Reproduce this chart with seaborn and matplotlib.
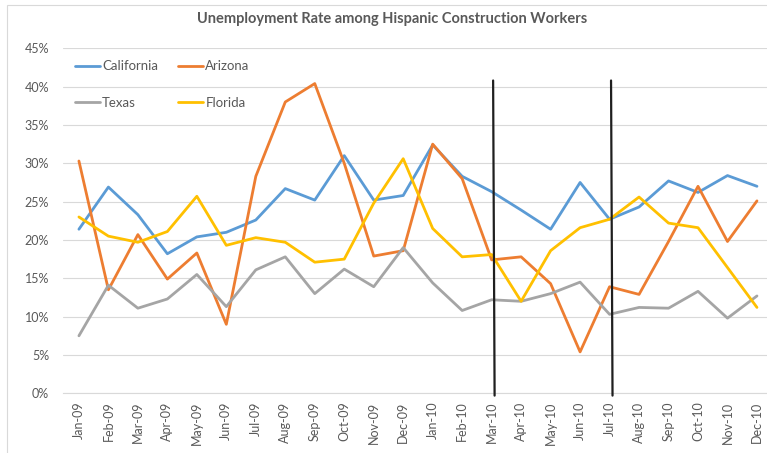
import pandas as pd
import matplotlib.pyplot as plt
import seaborn as sns
from matplotlib.patches import Rectangle
from matplotlib.ticker import FuncFormatter

months = ["Jan-09", "Feb-09", "Mar-09", "Apr-09", "May-09", "Jun-09",
          "Jul-09", "Aug-09", "Sep-09", "Oct-09", "Nov-09", "Dec-09",
          "Jan-10", "Feb-10", "Mar-10", "Apr-10", "May-10", "Jun-10",
          "Jul-10", "Aug-10", "Sep-10", "Oct-10", "Nov-10", "Dec-10"]

california = [21.4, 26.9, 23.3, 18.2, 20.4, 21.0, 22.6, 26.7, 25.2, 31.0, 25.2, 25.8,
              32.4, 28.3, 26.3, 23.9, 21.4, 27.5, 22.7, 24.3, 27.7, 26.2, 28.4, 27.0]
arizona = [30.3, 13.5, 20.7, 14.9, 18.3, 9.0, 28.3, 38.0, 40.4, 30.0, 17.9, 18.6,
           32.5, 28.0, 17.4, 17.8, 14.3, 5.4, 13.9, 12.9, 19.8, 27.0, 19.8, 25.1]
texas = [7.5, 14.1, 11.1, 12.3, 15.5, 11.3, 16.1, 17.8, 13.0, 16.2, 13.9, 19.0,
         14.4, 10.8, 12.2, 12.0, 13.0, 14.5, 10.3, 11.2, 11.1, 13.3, 9.8, 12.7]
florida = [23.0, 20.5, 19.7, 21.1, 25.7, 19.3, 20.3, 19.7, 17.1, 17.5, 24.8, 30.6,
           21.5, 17.8, 18.1, 12.0, 18.6, 21.6, 22.7, 25.6, 22.2, 21.6, 16.4, 11.2]

states = ["California", "Arizona", "Texas", "Florida"]
colors = ["#5B9BD5", "#ED7D31", "#A5A5A5", "#FFC000"]
marker_months = ["Mar-10", "Jul-10"]

df = pd.DataFrame({"Month": months * 4,
                   "State": [s for s in states for _ in months],
                   "Rate": california + arizona + texas + florida})

sns.set_style("white")
plt.rcParams["font.family"] = ["Lato", "DejaVu Sans"]
grey = "#595959"

fig = plt.figure(figsize=(7.67, 4.53), dpi=100)
ax = fig.add_axes([63 / 767, 1 - 393.3 / 453, 1 - 63 / 767, (393.3 - 48.3) / 453])

sns.lineplot(data=df, x="Month", y="Rate", hue="State", hue_order=states,
             palette=colors, linewidth=2.0, sort=False, ax=ax)

# the two black marker lines
for m in marker_months:
    i = months.index(m)
    ax.plot([i + 0.05, i + 0.1], [40.8, -0.3], color="#1f1f1f", lw=1.6, clip_on=False, zorder=5)

ax.set_ylim(0, 45)
ax.set_xlim(-0.54, 23.34)
ax.set_yticks(range(0, 46, 5))
ax.yaxis.set_major_formatter(FuncFormatter(lambda v, p: f"{v:.0f}%"))
ax.set_xticks(range(len(months)))
ax.set_xticklabels(months, rotation=90)
ax.tick_params(axis="both", length=0, labelsize=9, colors=grey)
ax.tick_params(axis="x", pad=6)
ax.tick_params(axis="y", pad=10)
ax.grid(axis="y", color="#D9D9D9", lw=0.8)
ax.set_axisbelow(True)
for s in ["top", "right", "left"]:
    ax.spines[s].set_visible(False)
ax.spines["bottom"].set_color("#D9D9D9")
ax.set_xlabel("")
ax.set_ylabel("")

h, l = ax.get_legend_handles_labels()
order = [0, 2, 1, 3]
leg = ax.legend([h[i] for i in order], [l[i] for i in order], ncol=2, frameon=False,
                loc="upper left", bbox_to_anchor=(0.0, 1.0), fontsize=9.5,
                handlelength=1.9, handletextpad=0.15, labelspacing=1.85,
                columnspacing=1.55)
for t in leg.get_texts():
    t.set_color(grey)

fig.text(392 / 767, 1 - 18.5 / 453, "Unemployment Rate among Hispanic Construction Workers",
         ha="center", va="center", fontsize=10.5, fontweight="bold", color=grey)

fig.patches.append(Rectangle((6.5 / 767, -0.1), 2, 1 - 5 / 453 + 0.1, transform=fig.transFigure,
                             fill=False, edgecolor="#D9D9D9", lw=0.8))

fig.savefig("out.png", dpi=100)
